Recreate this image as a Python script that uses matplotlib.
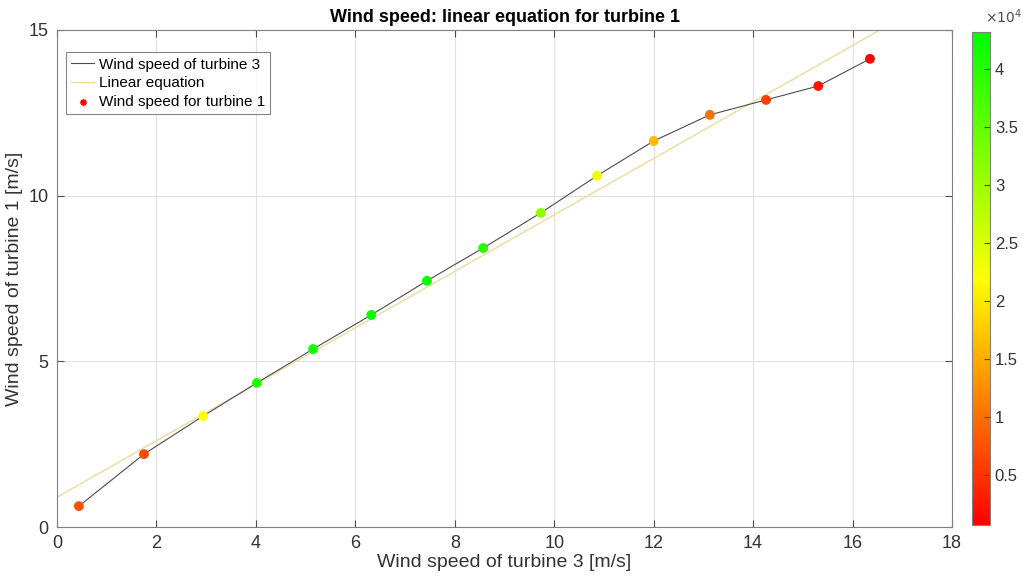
import numpy as np
import matplotlib
matplotlib.use("Agg")
import matplotlib.pyplot as plt
from matplotlib.colors import LinearSegmentedColormap, Normalize

plt.rcParams['font.family'] = ['Liberation Sans', 'DejaVu Sans']

# Data
turbine3 = [0.44, 1.75, 2.94, 4.02, 5.15, 6.32, 7.44, 8.57, 9.73, 10.86, 12.0, 13.13, 14.26, 15.31, 16.35]
turbine1 = [0.63, 2.20, 3.35, 4.35, 5.37, 6.40, 7.43, 8.42, 9.48, 10.60, 11.65, 12.44, 12.89, 13.31, 14.13]
counts = [7500, 7000, 22000, 40500, 41500, 42500, 42000, 40000, 31000, 23000, 16000, 10000, 6000, 2500, 700]
lin_intercept = 0.90
lin_slope = 0.852
cmin, cmax = 700, 43200
cbar_ticks = [5000, 10000, 15000, 20000, 25000, 30000, 35000, 40000]
cbar_labels = ['0.5', '1', '1.5', '2', '2.5', '3', '3.5', '4']

fig = plt.figure(figsize=(10.23, 5.8), dpi=100)
ax = fig.add_axes([57/1023, 53/580, (952-57)/1023, (527-30)/580])
cax = fig.add_axes([972/1023, 55/580, 18/1023, (525-32)/580])

cmap = LinearSegmentedColormap.from_list('ryg', [(1, 0, 0), (1, 1, 0), (0, 1, 0)])
norm = Normalize(vmin=cmin, vmax=cmax)

ax.plot(turbine3, turbine1, color=(0.3, 0.3, 0.3), lw=0.8, label='Wind speed of turbine 3', zorder=3)
xl = np.array([0, 18])
ax.plot(xl, lin_intercept + lin_slope * xl, color=(0.93, 0.86, 0.62), lw=1.0, label='Linear equation', zorder=2)
sc = ax.scatter(turbine3, turbine1, c=counts, cmap=cmap, norm=norm, s=50, zorder=4,
                edgecolors='none')
ax.scatter([], [], color='red', s=14, label='Wind speed for turbine 1')

ax.set_xlim(0, 18)
ax.set_ylim(0, 15)
ax.set_xticks(range(0, 19, 2))
ax.set_yticks([0, 5, 10, 15])
ax.grid(True, color=(0.88, 0.88, 0.88), lw=0.8)
ax.set_axisbelow(True)
for s in ax.spines.values():
    s.set_color((0.5, 0.5, 0.5))
    s.set_linewidth(0.8)
ax.tick_params(direction='in', top=True, right=True, labelsize=13, colors=(0.3, 0.3, 0.3),
               labelcolor=(0.2, 0.2, 0.2), length=5, pad=6)
ax.set_xlabel('Wind speed of turbine 3 [m/s]', fontsize=14, color=(0.2, 0.2, 0.2), labelpad=1)
ax.set_ylabel('Wind speed of turbine 1 [m/s]', fontsize=14, color=(0.2, 0.2, 0.2), labelpad=4)
ax.set_title('Wind speed: linear equation for turbine 1', fontsize=13, fontweight='bold', pad=6)

leg = ax.legend(loc='upper left', bbox_to_anchor=(0.01, 0.955), fontsize=11, frameon=True,
                fancybox=False, edgecolor=(0.4, 0.4, 0.4), handlelength=1.5, handletextpad=0.3,
                borderpad=0.35, labelspacing=0.3, borderaxespad=0)
leg.get_frame().set_linewidth(0.8)

cb = fig.colorbar(sc, cax=cax)
cb.set_ticks(cbar_ticks)
cb.set_ticklabels(cbar_labels)
cb.ax.tick_params(labelsize=12, direction='in', length=4, colors=(0.3, 0.3, 0.3), labelcolor=(0.2, 0.2, 0.2))
cb.outline.set_edgecolor((0.5, 0.5, 0.5))
cb.outline.set_linewidth(0.8)
fig.text(985/1023, 1 - 17/580, r'$\times10^4$', fontsize=10, color=(0.3, 0.3, 0.3), ha='left', va='center')

fig.savefig('out.png', dpi=100)
